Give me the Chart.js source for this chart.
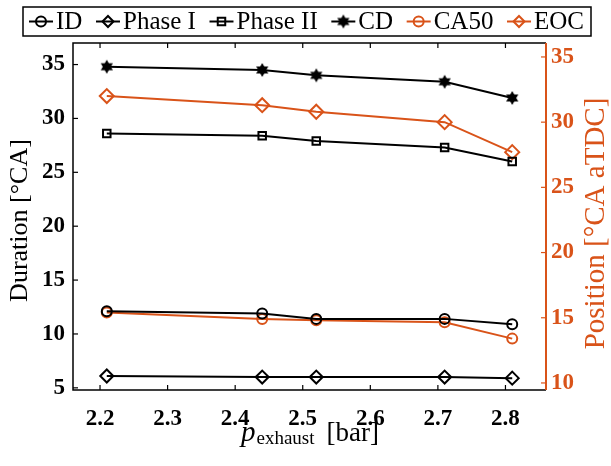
<!DOCTYPE html>
<html>
<head>
<meta charset="utf-8">
<script src="https://cdn.jsdelivr.net/npm/chart.js@4.4.0/dist/chart.umd.min.js"></script>
<style>
  html, body { margin: 0; padding: 0; background: #fff; }
  #wrap { width: 611px; height: 466px; }
</style>
</head>
<body>
<div id="wrap"><canvas id="chart" width="611" height="466"></canvas></div>
<script>
// exhaust pressure [bar]
const pressure = [2.21, 2.44, 2.52, 2.71, 2.81];

// durations [deg CA] (left axis)
const idDur = [12.1, 11.9, 11.4, 11.4, 10.9];
const phase1Dur = [6.1, 6.0, 6.0, 6.0, 5.9];
const phase2Dur = [28.6, 28.4, 27.9, 27.3, 26.0];
const cdDur = [34.8, 34.5, 34.0, 33.4, 31.9];

// positions [deg CA aTDC] (right axis)
const ca50Pos = [15.4, 14.9, 14.8, 14.65, 13.4];
const eocPos = [32.0, 31.3, 30.8, 30.0, 27.7];

const xTicks = [2.2, 2.3, 2.4, 2.5, 2.6, 2.7, 2.8];
const leftTicks = [5, 10, 15, 20, 25, 30, 35];
const rightTicks = [10, 15, 20, 25, 30, 35];

const orange = "#D95319";
const serif = "'Liberation Serif', 'Times New Roman', serif";

function makeHexagram(r, color) {
  const c = document.createElement("canvas");
  const s = Math.ceil(r * 2 + 2);
  c.width = s;
  c.height = s;
  const g = c.getContext("2d");
  g.fillStyle = color;
  g.beginPath();
  for (let i = 0; i < 12; i++) {
    const a = -Math.PI / 2 + (i * Math.PI) / 6;
    const rr = i % 2 === 0 ? r : r * 0.577;
    const px = s / 2 + rr * Math.cos(a);
    const py = s / 2 + rr * Math.sin(a);
    if (i === 0) g.moveTo(px, py);
    else g.lineTo(px, py);
  }
  g.closePath();
  g.fill();
  return c;
}

const star = makeHexagram(7, "#000");

function pts(ys) {
  return pressure.map((x, i) => ({ x: x, y: ys[i] }));
}

function series(label, ys, color, style, radius, axis) {
  return {
    label: label,
    data: pts(ys),
    yAxisID: axis,
    borderColor: color,
    borderWidth: 2,
    pointStyle: style,
    pointRadius: radius,
    pointBorderColor: color,
    pointBackgroundColor: style === star ? color : "rgba(0,0,0,0)",
    pointBorderWidth: 2,
    tension: 0,
  };
}

const datasets = [
  series("ID", idDur, "#000", "circle", 5, "y"),
  series("Phase I", phase1Dur, "#000", "rectRot", 6.5, "y"),
  series("Phase II", phase2Dur, "#000", "rect", 5.3, "y"),
  series("CD", cdDur, "#000", star, 7, "y"),
  series("CA50", ca50Pos, orange, "circle", 5, "y2"),
  series("EOC", eocPos, orange, "rectRot", 7, "y2"),
];

const framePlugin = {
  id: "frame",
  afterDraw(chart) {
    const ctx = chart.ctx;
    const a = chart.chartArea;
    const xs = chart.scales.x;
    const yl = chart.scales.y;
    const yr = chart.scales.y2;
    ctx.save();

    // box
    ctx.lineWidth = 1.5;
    ctx.strokeStyle = "#000";
    ctx.beginPath();
    ctx.moveTo(a.right, a.top);
    ctx.lineTo(a.left, a.top);
    ctx.lineTo(a.left, a.bottom);
    ctx.lineTo(a.right, a.bottom);
    ctx.stroke();

    // x ticks, inward on bottom and top
    ctx.lineWidth = 1.2;
    xTicks.forEach((v) => {
      const px = xs.getPixelForValue(v);
      ctx.beginPath();
      ctx.moveTo(px, a.bottom);
      ctx.lineTo(px, a.bottom - 5);
      ctx.moveTo(px, a.top);
      ctx.lineTo(px, a.top + 5);
      ctx.stroke();
    });
    leftTicks.forEach((v) => {
      const py = yl.getPixelForValue(v);
      ctx.beginPath();
      ctx.moveTo(a.left, py);
      ctx.lineTo(a.left + 5, py);
      ctx.stroke();
    });

    // right axis in orange
    ctx.strokeStyle = orange;
    ctx.lineWidth = 2;
    ctx.beginPath();
    ctx.moveTo(a.right, a.top);
    ctx.lineTo(a.right, a.bottom);
    ctx.stroke();
    ctx.lineWidth = 1.2;
    rightTicks.forEach((v) => {
      const py = yr.getPixelForValue(v);
      ctx.beginPath();
      ctx.moveTo(a.right, py);
      ctx.lineTo(a.right - 5, py);
      ctx.stroke();
    });

    // axis titles
    ctx.textAlign = "center";
    ctx.textBaseline = "middle";
    ctx.fillStyle = "#000";
    ctx.font = "26px " + serif;
    ctx.save();
    ctx.translate(20, (a.top + a.bottom) / 2 + 4);
    ctx.rotate(-Math.PI / 2);
    ctx.fillText("Duration [°CA]", 0, 0);
    ctx.restore();

    ctx.fillStyle = orange;
    ctx.font = "29px " + serif;
    ctx.save();
    ctx.translate(596, (a.top + a.bottom) / 2 + 7);
    ctx.rotate(-Math.PI / 2);
    ctx.fillText("Position [°CA aTDC]", 0, 0);
    ctx.restore();

    // x title: p_exhaust [bar]
    ctx.fillStyle = "#000";
    ctx.textAlign = "left";
    ctx.textBaseline = "alphabetic";
    const fMain = "27px " + serif;
    const fIt = "italic 29px " + serif;
    const fSub = "19px " + serif;
    ctx.font = fIt;
    const wp = ctx.measureText("p").width;
    ctx.font = fSub;
    const ws = ctx.measureText("exhaust").width;
    ctx.font = fMain;
    const wb = ctx.measureText("[bar]").width;
    const gap = 12;
    let tx = (a.left + a.right) / 2 - (wp + ws + gap + wb) / 2;
    const base = 441;
    ctx.font = fIt;
    ctx.fillText("p", tx, base);
    tx += wp + 1;
    ctx.font = fSub;
    ctx.fillText("exhaust", tx, base + 3);
    tx += ws + gap;
    ctx.font = fMain;
    ctx.fillText("[bar]", tx, base);

    // legend: entries spread evenly across the box
    ctx.fillStyle = "#fff";
    ctx.strokeStyle = "#000";
    ctx.lineWidth = 1.5;
    ctx.fillRect(23, 7, 568, 29);
    ctx.strokeRect(23, 7, 568, 29);
    const ly = 21.5;
    ctx.font = "25px " + serif;
    ctx.textBaseline = "middle";
    const dsList = chart.data.datasets;
    const widths = dsList.map((ds) => ctx.measureText(ds.label).width);
    const used = widths.reduce((s, w) => s + w + 27, 0);
    const spread = (584 - 29 - used) / (dsList.length - 1);
    let x0 = 29;
    dsList.forEach((ds, i) => {
      ctx.strokeStyle = ds.borderColor;
      ctx.lineWidth = 2;
      ctx.beginPath();
      ctx.moveTo(x0, ly);
      ctx.lineTo(x0 + 24, ly);
      ctx.stroke();
      ctx.fillStyle = ds.pointBackgroundColor;
      Chart.helpers.drawPoint(
        ctx,
        {
          pointStyle: ds.pointStyle,
          radius: ds.pointStyle === star ? 6 : Math.min(ds.pointRadius, 5.5),
          borderWidth: 2,
          rotation: 0,
        },
        x0 + 12,
        ly
      );
      ctx.fillStyle = "#000";
      ctx.fillText(ds.label, x0 + 27, ly + 1);
      x0 += 27 + widths[i] + spread;
    });

    ctx.restore();
  },
};

const tickFont = { family: serif, weight: "bold", size: 23 };

new Chart(document.getElementById("chart").getContext("2d"), {
  type: "line",
  data: { datasets: datasets },
  options: {
    responsive: false,
    animation: false,
    events: [],
    layout: { padding: { top: 43, left: 0, right: 0, bottom: 0 } },
    plugins: {
      legend: { display: false },
      tooltip: { enabled: false },
    },
    scales: {
      x: {
        type: "linear",
        min: 2.16,
        max: 2.86,
        afterBuildTicks: (s) => {
          s.ticks = xTicks.map((v) => ({ value: v }));
        },
        afterFit: (s) => {
          s.height = 76;
        },
        grid: { display: false, drawTicks: false },
        border: { display: false },
        ticks: {
          font: tickFont,
          color: "#000",
          padding: 15,
          maxRotation: 0,
          callback: (v) => v.toFixed(1),
        },
      },
      y: {
        type: "linear",
        position: "left",
        min: 4.8,
        max: 37,
        afterBuildTicks: (s) => {
          s.ticks = leftTicks.map((v) => ({ value: v }));
        },
        afterFit: (s) => {
          s.width = 73;
        },
        grid: { display: false, drawTicks: false },
        border: { display: false },
        ticks: { font: tickFont, color: "#000", padding: 8 },
      },
      y2: {
        type: "linear",
        position: "right",
        min: 9.46,
        max: 36.07,
        afterBuildTicks: (s) => {
          s.ticks = rightTicks.map((v) => ({ value: v }));
        },
        afterFit: (s) => {
          s.width = 65;
        },
        grid: { display: false, drawTicks: false },
        border: { display: false },
        ticks: { font: tickFont, color: orange, padding: 5 },
      },
    },
  },
  plugins: [framePlugin],
});
</script>
</body>
</html>
